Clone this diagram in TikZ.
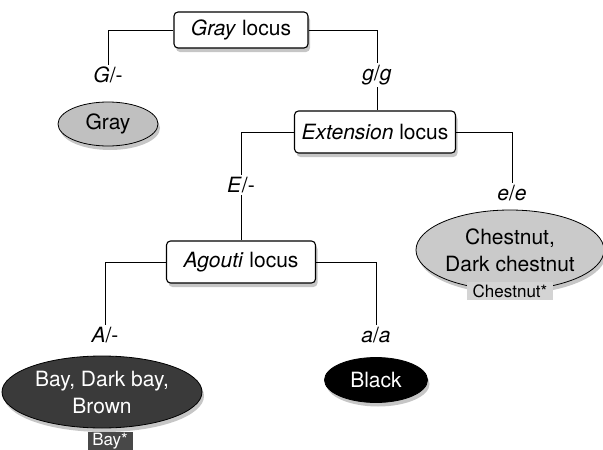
\documentclass[tikz,border=0pt]{standalone}
\usepackage{fontspec}
\setmainfont{TeX Gyre Heros}
\usetikzlibrary{shapes.geometric, shadows, positioning}
\definecolor{grayfill}{RGB}{192,192,192}
\definecolor{chestfill}{RGB}{202,202,202}
\definecolor{bayfill}{RGB}{58,58,58}
\definecolor{tagchest}{RGB}{212,212,212}
\definecolor{tagbay}{RGB}{72,72,72}

\begin{document}
\begin{tikzpicture}[x=1pt, y=-1pt,
    locus/.style={draw, line width=1.1pt, rounded corners=4pt, fill=white,
      inner sep=0pt, minimum height=36pt,
      drop shadow={shadow xshift=2pt, shadow yshift=-4pt, opacity=0.45},
      font=\fontsize{21}{24}\selectfont},
    allele/.style={inner sep=2pt, font=\fontsize{21}{24}\selectfont},
    pheno/.style={ellipse, draw, line width=0.8pt, inner sep=0pt, align=center,
      drop shadow={shadow xshift=2pt, shadow yshift=-4pt, opacity=0.45},
      font=\fontsize{21}{27}\selectfont},
    tagbox/.style={inner sep=0pt, minimum height=18pt, font=\fontsize{17}{18}\selectfont},
    link/.style={line width=0.9pt}]
  \useasboundingbox (0,0) rectangle (603,450);
  % Gray locus
  \node[locus, minimum width=134pt] (grayloc) at (241,30) {\textit{Gray} locus};
  \node[allele] (Gdom) at (108,75) {\textit{G}/-};
  \node[allele] (grec) at (377,75) {\textit{g}/\textit{g}};
  \node[pheno, fill=grayfill, minimum width=100pt, minimum height=44pt] (gray) at (108,124) {Gray};
  % Extension locus
  \node[locus, minimum width=161pt, minimum height=42pt] (extloc) at (375,132) {\textit{Extension} locus};
  \node[allele] (Edom) at (241,185) {\textit{E}/-};
  \node[allele] (erec) at (512,193) {\textit{e}/\textit{e}};
  \node[pheno, fill=chestfill, minimum width=188pt, minimum height=80pt] (chest) at (510,250) {Chestnut,\\Dark chestnut};
  \node[tagbox, fill=tagchest, minimum width=86pt] (chesttag) at (510,291) {Chestnut*};
  % Agouti locus
  \node[locus, minimum width=149pt, minimum height=42pt] (agouti) at (241,262) {\textit{Agouti} locus};
  \node[allele] (Adom) at (105,335) {\textit{A}/-};
  \node[allele] (arec) at (376,335) {\textit{a}/\textit{a}};
  \node[pheno, fill=bayfill, text=white, minimum width=200pt, minimum height=72pt] (bay) at (102,392) {Bay, Dark bay,\\Brown};
  \node[tagbox, fill=tagbay, text=white, minimum width=45pt] (baytag) at (110,441) {Bay*};
  \node[pheno, fill=black, text=white, minimum width=103pt, minimum height=45pt] (black) at (376,380) {Black};
  % Connectors
  \draw[link] (grayloc.west) -| (Gdom.north);
  \draw[link] (grayloc.east) -| (grec.north);
  \draw[link] (grec.south) -- (extloc.north -| grec.south);
  \draw[link] (extloc.west) -| (Edom.north);
  \draw[link] (extloc.east) -| (erec.north);
  \draw[link] (Edom.south) -- (agouti.north -| Edom.south);
  \draw[link] (agouti.west) -| (Adom.north);
  \draw[link] (agouti.east) -| (arec.north);
\end{tikzpicture}
\end{document}
